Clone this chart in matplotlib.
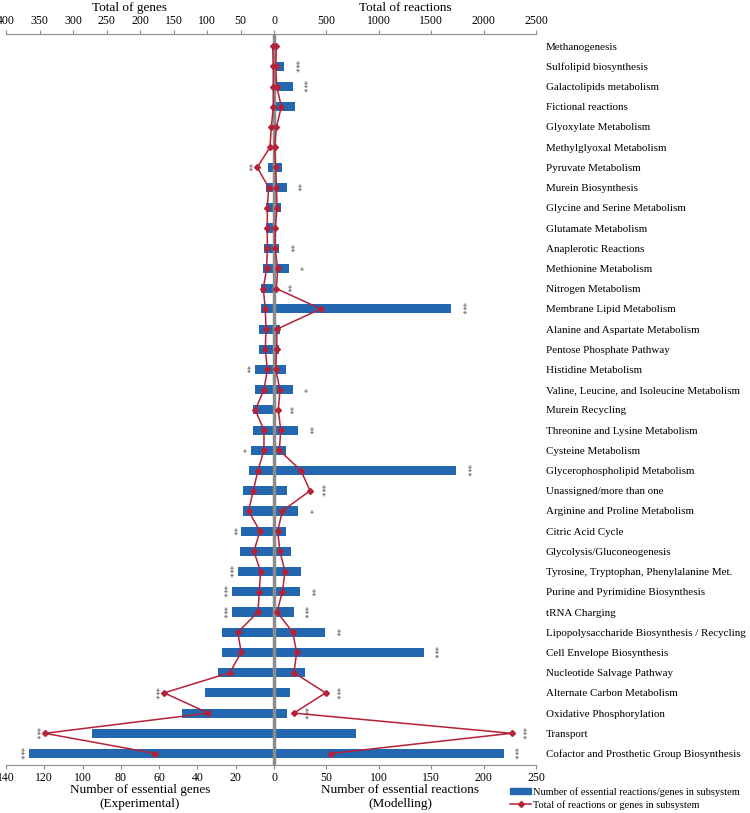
import matplotlib.pyplot as plt
import matplotlib.lines as mlines
import matplotlib.patches as mpatches

plt.rcParams['font.family'] = ['Liberation Serif', 'DejaVu Serif']

# subsystems, top to bottom
subsystems = [
    'Methanogenesis', 'Sulfolipid biosynthesis', 'Galactolipids metabolism',
    'Fictional reactions', 'Glyoxylate Metabolism', 'Methylglyoxal Metabolism',
    'Pyruvate Metabolism', 'Murein Biosynthesis', 'Glycine and Serine Metabolism',
    'Glutamate Metabolism', 'Anaplerotic Reactions', 'Methionine Metabolism',
    'Nitrogen Metabolism', 'Membrane Lipid Metabolism',
    'Alanine and Aspartate Metabolism', 'Pentose Phosphate Pathway',
    'Histidine Metabolism', 'Valine, Leucine, and Isoleucine Metabolism',
    'Murein Recycling', 'Threonine and Lysine Metabolism', 'Cysteine Metabolism',
    'Glycerophospholipid Metabolism', 'Unassigned/more than one',
    'Arginine and Proline Metabolism', 'Citric Acid Cycle',
    'Glycolysis/Gluconeogenesis', 'Tyrosine, Tryptophan, Phenylalanine Met.',
    'Purine and Pyrimidine Biosynthesis', 'tRNA Charging',
    'Lipopolysaccharide Biosynthesis / Recycling', 'Cell Envelope Biosynthesis',
    'Nucleotide Salvage Pathway', 'Alternate Carbon Metabolism',
    'Oxidative Phosphorylation', 'Transport',
    'Cofactor and Prosthetic Group Biosynthesis',
]

# essential genes (experimental) / essential reactions (modelling)
ess_genes = [0, 0, 0, 0, 0, 0, 3, 4, 4, 4, 5, 6, 7, 7, 8, 8, 10, 10,
             11, 11, 12, 13, 16, 16, 17, 18, 19, 22, 22, 27, 27, 29, 36, 48, 95, 128]
ess_reactions = [0, 10, 18, 20, 0, 0, 8, 12, 7, 0, 5, 14, 0, 169, 6, 5, 11, 18,
                 0, 23, 11, 174, 12, 23, 11, 16, 26, 25, 19, 49, 143, 30, 15, 12, 78, 219]

# totals per subsystem
tot_genes = [2, 1, 1, 1, 4, 6, 25, 8, 10, 10, 10, 11, 16, 13, 12, 13, 10, 15,
             28, 15, 15, 24, 31, 38, 21, 30, 20, 22, 24, 54, 49, 66, 164, 98, 342, 177]
tot_reactions = [23, 16, 26, 70, 23, 5, 16, 23, 29, 13, 10, 35, 23, 446, 29, 25, 16, 57,
                 41, 64, 51, 257, 344, 79, 35, 57, 105, 79, 29, 178, 216, 190, 492, 190, 2266, 541]

# significance marks
stars_genes = ['', '', '', '', '', '', '**', '', '', '', '', '', '', '', '', '', '**', '',
               '', '', '*', '', '', '', '**', '', '***', '***', '***', '', '', '', '***', '', '***', '***']
stars_reactions = ['', '***', '***', '', '', '', '', '**', '', '', '**', '*', '**', '***', '', '', '', '*',
                   '**', '**', '', '***', '***', '*', '', '', '', '**', '***', '**', '***', '', '***', '***', '***', '***']

# scale maxima of the four half axes
GENES_MAX = 140
REACT_MAX = 250
TOT_GENES_MAX = 400
TOT_REACT_MAX = 2500
# the left half is a bit wider than the right one
LEFT_SPAN = 268 / 262

BLUE = '#2367b0'
RED = '#b52237'
GRAY = '#8c8c8c'

fig = plt.figure(figsize=(7.5, 8.13), dpi=100)
ax = fig.add_axes([0.008, 0.059, 0.7067, 0.8992])

y = list(range(len(subsystems)))

# everything is drawn on one axis, each half scaled on its own
left_bar = [-g / GENES_MAX * LEFT_SPAN for g in ess_genes]
right_bar = [r / REACT_MAX for r in ess_reactions]
left_tot = [-g / TOT_GENES_MAX * LEFT_SPAN for g in tot_genes]
right_tot = [r / TOT_REACT_MAX for r in tot_reactions]

ax.barh(y, left_bar, height=0.45, color=BLUE, zorder=2)
ax.barh(y, right_bar, height=0.45, color=BLUE, zorder=2)
ax.axvline(0, color=GRAY, lw=2.5, zorder=3)
ax.plot(left_tot, y, color=RED, lw=1.1, marker='D', ms=3, zorder=4)
ax.plot(right_tot, y, color=RED, lw=1.1, marker='D', ms=3, zorder=4)

# stars just outside the outermost mark of each side
star_kw = dict(textcoords='offset points', rotation=270, ha='center', va='center',
               fontsize=6, color='#555555', family='DejaVu Sans')
for i in y:
    if stars_genes[i]:
        x = min(left_bar[i], left_tot[i])
        ax.annotate(stars_genes[i], (x, i), xytext=(-7, 0), **star_kw)
    if stars_reactions[i]:
        x = max(right_bar[i], right_tot[i])
        ax.annotate(stars_reactions[i], (x, i), xytext=(7, 0), **star_kw)

ax.set_xlim(-LEFT_SPAN, 1)
ax.set_ylim(len(subsystems) - 0.43, -0.6)

# bottom axis
bot_g = [140, 120, 100, 80, 60, 40, 20]
bot_r = [50, 100, 150, 200, 250]
ax.set_xticks([-g / GENES_MAX * LEFT_SPAN for g in bot_g] + [0] + [r / REACT_MAX for r in bot_r])
ax.set_xticklabels([str(g) for g in bot_g] + ['0'] + [str(r) for r in bot_r], fontsize=8.5)
ax.tick_params(axis='x', direction='out', length=3, color=GRAY, pad=2)

ax.yaxis.tick_right()
ax.set_yticks(y)
ax.set_yticklabels(subsystems, fontsize=7.9)
ax.tick_params(axis='y', length=0, pad=7)

for s in ['top', 'left', 'right']:
    ax.spines[s].set_visible(False)
ax.spines['bottom'].set_color(GRAY)

# top axis
ax2 = ax.twiny()
ax2.set_xlim(ax.get_xlim())
top_g = [400, 350, 300, 250, 200, 150, 100, 50]
top_r = [500, 1000, 1500, 2000, 2500]
ax2.set_xticks([-g / TOT_GENES_MAX * LEFT_SPAN for g in top_g] + [0] + [r / TOT_REACT_MAX for r in top_r])
ax2.set_xticklabels([str(g) for g in top_g] + ['0'] + [str(r) for r in top_r], fontsize=8.5)
ax2.tick_params(axis='x', direction='out', length=3, color=GRAY, pad=2)
for s in ['bottom', 'left', 'right']:
    ax2.spines[s].set_visible(False)
ax2.spines['top'].set_color(GRAY)

# axis titles
fig.text(130 / 750, 1 - 8 / 813, 'Total of genes', ha='center', va='center', fontsize=9.5)
fig.text(405 / 750, 1 - 8 / 813, 'Total of reactions', ha='center', va='center', fontsize=9.5)
fig.text(140 / 750, 1 - 797 / 813, 'Number of essential genes\n(Experimental)',
         ha='center', va='center', fontsize=9.5, linespacing=1.3)
fig.text(400 / 750, 1 - 797 / 813, 'Number of essential reactions\n(Modelling)',
         ha='center', va='center', fontsize=9.5, linespacing=1.3)

handles = [
    mpatches.Patch(color=BLUE, label='Number of essential reactions/genes in subsystem'),
    mlines.Line2D([], [], color=RED, lw=1.1, marker='D', ms=3,
                  label='Total of reactions or genes in subsystem'),
]
fig.legend(handles=handles, loc='upper left', bbox_to_anchor=(505 / 750, 1 - 782 / 813),
           frameon=False, fontsize=7.5, handlelength=2, handleheight=0.5,
           labelspacing=0.3, handletextpad=0.2, borderpad=0)

fig.savefig('out.png', dpi=100)
